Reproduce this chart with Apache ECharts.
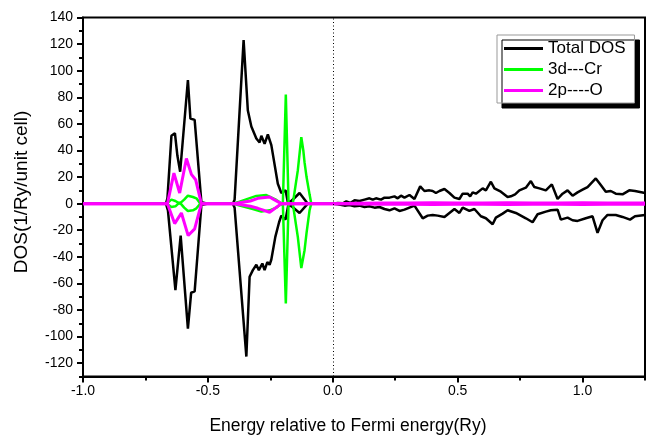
<!DOCTYPE html>
<html><head><meta charset="utf-8">
<script src="https://cdn.jsdelivr.net/npm/echarts@6/dist/echarts.min.js"></script>
<style>html,body{margin:0;padding:0;background:#fff}#c{width:656px;height:438px}</style>
</head><body><div id="c"></div>
<script>
// ---- tick labels ----
const xMajorTicks = [-1, -0.5, 0, 0.5, 1];
const xMinorTicks = [-0.75, -0.25, 0.25, 0.75, 1.25];
const yMajorTicks = [-120, -100, -80, -60, -40, -20, 0, 20, 40, 60, 80, 100, 120, 140];
const yMinorTicks = [-130, -110, -90, -70, -50, -30, -10, 10, 30, 50, 70, 90, 110, 130];
const seriesNames = ['Total DOS', '3d---Cr', '2p----O'];
const xTitle = 'Energy relative to Fermi energy(Ry)';
const yTitle = 'DOS(1/Ry/unit cell)';

// ---- data: [energy (Ry), DOS] ----
const totalUp = [[-1,0],[-0.668,0],[-0.662,4],[-0.646,51],[-0.632,53],[-0.622,36],[-0.611,24],[-0.580,93],[-0.570,64],[-0.553,63],[-0.526,1],[-0.50,0],[-0.40,0],[-0.393,3],[-0.357,123],[-0.340,70],[-0.326,58],[-0.306,49],[-0.293,46],[-0.286,51],[-0.273,45],[-0.260,52],[-0.246,44],[-0.220,15],[-0.206,8],[-0.189,10],[-0.180,1],[-0.166,2],[-0.133,8],[-0.10,0],[-0.05,0],[0.0,0],[0.02,0.5],[0.04,0.3],[0.054,1.7],[0.07,0.5],[0.087,2.5],[0.107,2],[0.127,3],[0.147,4],[0.16,3],[0.173,4],[0.193,3],[0.207,4.5],[0.227,4.5],[0.247,5.5],[0.26,4],[0.273,6],[0.287,4.5],[0.307,6.5],[0.327,3.5],[0.35,13],[0.367,9.5],[0.387,10],[0.4,9.5],[0.413,8],[0.427,9.5],[0.447,11],[0.467,8],[0.487,4.5],[0.507,3.5],[0.52,7.5],[0.54,7.5],[0.55,5.5],[0.56,8.5],[0.573,7.5],[0.6,11.5],[0.613,10],[0.633,16.5],[0.647,11.5],[0.673,9],[0.7,5],[0.713,5.5],[0.73,7],[0.747,10],[0.773,12],[0.793,17],[0.807,12.5],[0.827,11.5],[0.853,10],[0.877,14.5],[0.9,3.5],[0.92,7.5],[0.94,10],[0.96,6],[0.98,8.5],[1.0,10.5],[1.02,12.5],[1.053,19],[1.073,14],[1.093,9],[1.113,9.5],[1.133,7.5],[1.16,7],[1.187,10],[1.21,9.5],[1.25,8]];
const totalDown = [[-1,0],[-0.668,0],[-0.660,-5],[-0.630,-65],[-0.609,-24],[-0.580,-94],[-0.567,-67],[-0.553,-66],[-0.526,-1],[-0.50,0],[-0.40,0],[-0.393,-3],[-0.346,-115],[-0.333,-55],[-0.320,-50],[-0.306,-46],[-0.296,-50],[-0.282,-45],[-0.273,-50],[-0.262,-44],[-0.253,-46],[-0.246,-42],[-0.230,-25],[-0.215,-14],[-0.206,-9],[-0.189,-12],[-0.178,-1],[-0.165,-2],[-0.133,-7],[-0.10,0],[0.0,0],[0.02,-0.5],[0.047,-1.5],[0.067,-1],[0.087,-2],[0.107,-1.5],[0.127,-2.5],[0.147,-2],[0.167,-3],[0.187,-2.5],[0.207,-4],[0.227,-5],[0.247,-3.5],[0.267,-5.5],[0.287,-4.5],[0.307,-3],[0.327,-1.5],[0.36,-11],[0.38,-9],[0.4,-8.5],[0.42,-9],[0.447,-10],[0.467,-7],[0.487,-4],[0.507,-7],[0.52,-3],[0.547,-5.5],[0.567,-4],[0.593,-9.5],[0.613,-11],[0.64,-15.5],[0.653,-10.5],[0.68,-7.5],[0.7,-5],[0.733,-7],[0.773,-11],[0.8,-14],[0.82,-8],[0.853,-6],[0.873,-5],[0.9,-4.5],[0.913,-12],[0.94,-10.5],[0.96,-12.5],[0.98,-13],[1.013,-11],[1.04,-9.5],[1.06,-22],[1.08,-12.5],[1.1,-8.5],[1.133,-8.5],[1.16,-10],[1.19,-12],[1.21,-9.5],[1.25,-8.5]];
const crUp = [[-1,0],[-0.665,0],[-0.646,3],[-0.630,2],[-0.613,0],[-0.595,3],[-0.580,6],[-0.560,5],[-0.546,4],[-0.530,0],[-0.40,0],[-0.373,1.5],[-0.306,5.8],[-0.266,6.5],[-0.226,2.8],[-0.212,1],[-0.200,-1],[-0.188,82],[-0.177,0],[-0.160,0],[-0.153,1],[-0.140,25],[-0.126,50],[-0.118,40],[-0.113,31],[-0.105,20],[-0.093,7],[-0.086,0],[1.25,0]];
const crDown = [[-1,0],[-0.665,0],[-0.646,-2.5],[-0.630,-2],[-0.613,1],[-0.595,-3],[-0.580,-5.5],[-0.560,-5],[-0.546,-3.5],[-0.530,0],[-0.40,0],[-0.373,-1.5],[-0.320,-4],[-0.286,-6],[-0.253,-5],[-0.226,-3],[-0.212,-1],[-0.200,1],[-0.188,-75],[-0.177,0],[-0.160,0],[-0.153,-1],[-0.140,-25],[-0.126,-48.5],[-0.113,-35],[-0.105,-22],[-0.093,-5],[-0.086,0],[1.25,0]];
const oUp = [[-1,0],[-0.662,0],[-0.636,23],[-0.613,8],[-0.586,34],[-0.566,22],[-0.549,18],[-0.526,0],[-0.40,0],[-0.38,0.5],[-0.33,2],[-0.30,4],[-0.253,5],[-0.235,3],[-0.206,0],[0,0],[0.1,0.3],[0.2,0.5],[0.3,0.4],[0.4,0.6],[0.5,0.4],[0.6,0.5],[0.7,0.6],[0.8,0.4],[0.9,0.5],[1.0,0.6],[1.1,0.4],[1.25,0.5]];
const oDown = [[-1,0],[-0.662,0],[-0.633,-15],[-0.606,-7],[-0.579,-24],[-0.553,-19],[-0.526,0],[-0.40,0],[-0.38,-0.5],[-0.33,-2],[-0.30,-3.5],[-0.253,-6.5],[-0.235,-4],[-0.206,0],[0,0],[0.1,-0.3],[0.2,-0.5],[0.3,-0.4],[0.4,-0.6],[0.5,-0.4],[0.6,-0.5],[0.7,-0.6],[0.8,-0.4],[0.9,-0.5],[1.0,-0.6],[1.1,-0.4],[1.25,-0.5]];

const colors = ['#000000', '#00ff00', '#ff00ff'];
const FONT = 'Liberation Sans, Arial, sans-serif';

function lineSeries(name, data, color, width, extra) {
  return Object.assign({
    type: 'line', name: name, data: data, symbol: 'none', showSymbol: false,
    lineStyle: { color: color, width: width }, itemStyle: { color: color },
    animation: false, silent: true
  }, extra || {});
}

const chart = echarts.init(document.getElementById('c'), null, { renderer: 'canvas' });
chart.setOption({
  animation: false,
  backgroundColor: '#fff',
  textStyle: { fontFamily: FONT },
  grid: { left: 83, right: 11, top: 17.5, bottom: 61.5, show: true, borderColor: '#000', borderWidth: 2, backgroundColor: 'transparent' },
  legend: {
    data: seriesNames, orient: 'vertical', left: 497, top: 35,
    icon: 'rect', itemWidth: 39, itemHeight: 3, itemGap: 4,
    padding: [5, 9, 4, 7],
    backgroundColor: '#fff', borderColor: '#999', borderWidth: 1,
    shadowColor: '#000', shadowBlur: 0, shadowOffsetX: 5, shadowOffsetY: 5,
    textStyle: { fontFamily: FONT, fontSize: 17, color: '#000' }
  },
  graphic: [
    { type: 'text', x: 348, y: 426, silent: true,
      style: { text: xTitle, fontFamily: FONT, fontSize: 17.5, fill: '#000', align: 'center', verticalAlign: 'middle' } },
    { type: 'text', x: 22, y: 192, rotation: Math.PI / 2, silent: true,
      style: { text: yTitle, fontFamily: FONT, fontSize: 19, fill: '#000', align: 'center', verticalAlign: 'middle' } }
  ],
  xAxis: [{
    type: 'value', min: -1, max: 1.25,
    axisLine: { show: true, onZero: false, lineStyle: { color: '#000', width: 2 } },
    axisTick: { show: true, customValues: xMajorTicks, length: 6, lineStyle: { color: '#000', width: 2 } },
    axisLabel: { customValues: xMajorTicks, fontFamily: FONT, fontSize: 14, color: '#000', margin: 8,
      formatter: v => v.toFixed(1) },
    splitLine: { show: false }
  }, {
    type: 'value', min: -1, max: 1.25, position: 'bottom',
    axisLine: { show: false, onZero: false },
    axisTick: { show: true, customValues: xMinorTicks, length: 4, lineStyle: { color: '#000', width: 2 } },
    axisLabel: { show: false }, splitLine: { show: false }
  }],
  yAxis: [{
    type: 'value', min: -130, max: 140,
    axisLine: { show: true, onZero: false, lineStyle: { color: '#000', width: 2 } },
    axisTick: { show: true, customValues: yMajorTicks, length: 6, lineStyle: { color: '#000', width: 2 } },
    axisLabel: { customValues: yMajorTicks, fontFamily: FONT, fontSize: 14, color: '#000', margin: 10 },
    splitLine: { show: false }
  }, {
    type: 'value', min: -130, max: 140, position: 'left',
    axisLine: { show: false, onZero: false },
    axisTick: { show: true, customValues: yMinorTicks, length: 4, lineStyle: { color: '#000', width: 2 } },
    axisLabel: { show: false }, splitLine: { show: false }
  }],
  series: [
    lineSeries(seriesNames[0], totalUp, colors[0], 2.5, {
      markLine: { silent: true, symbol: 'none', animation: false,
        label: { show: false },
        lineStyle: { type: [1, 2.5], color: '#000', width: 1 },
        data: [{ xAxis: 0 }] }
    }),
    lineSeries(seriesNames[0], totalDown, colors[0], 2.5),
    lineSeries(seriesNames[1], crUp, colors[1], 2.5),
    lineSeries(seriesNames[1], crDown, colors[1], 2.5),
    lineSeries(seriesNames[2], oUp, colors[2], 3),
    lineSeries(seriesNames[2], oDown, colors[2], 3)
  ]
});
</script>
</body></html>
